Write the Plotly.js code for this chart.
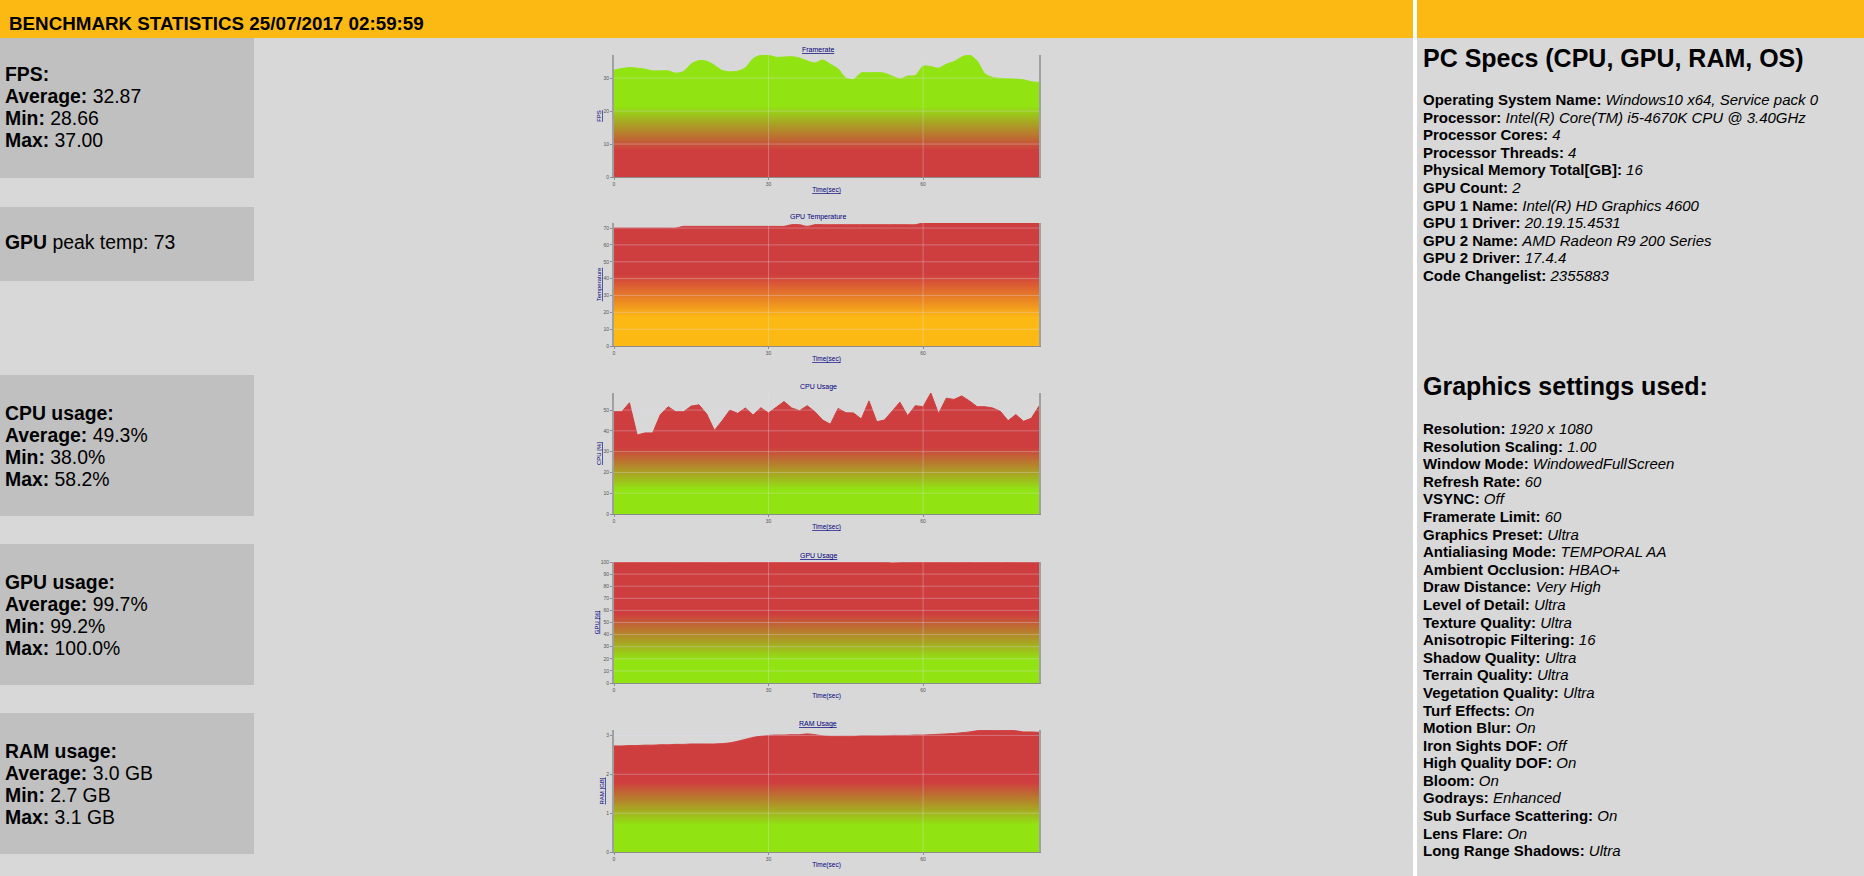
<!DOCTYPE html>
<html>
<head>
<meta charset="utf-8">
<script src="https://cdn.plot.ly/plotly-3.0.1.min.js"></script>
<style>
  html, body { margin:0; padding:0; }
  body { width:1864px; height:876px; overflow:hidden; font-family:"Liberation Sans", Arial, sans-serif; color:#000; }
  #page { position:relative; width:1864px; height:876px; background:#D8D8D8; overflow:hidden; }
  .abs { position:absolute; }
  .orange { background:#FDB913; }
  .box { position:absolute; left:0; width:254px; background:#C0C0C0; }
  .stat { position:absolute; left:5px; font-size:19.4px; line-height:22px; white-space:nowrap; }
  .hdr { position:absolute; left:9px; font-size:18.8px; line-height:22px; font-weight:bold; white-space:nowrap; }
  .h2 { position:absolute; left:1423px; font-size:25px; line-height:30px; font-weight:bold; white-space:nowrap; }
  .list { position:absolute; left:1423px; font-size:15px; line-height:17.6px; white-space:nowrap; }
  .list i { font-style:italic; }
  #plot { position:absolute; left:0; top:0; width:1864px; height:876px; }
</style>
</head>
<body>
<div id="page">
  <div class="abs orange" style="left:0;top:0;width:1413px;height:38px;"></div>
  <div class="abs orange" style="left:1417px;top:0;width:447px;height:38px;"></div>
  <div class="abs" style="left:1413px;top:0;width:4px;height:876px;background:#FFFFFF;"></div>
  <div class="hdr" style="top:12.5px;">BENCHMARK STATISTICS 25/07/2017 02:59:59</div>

  <div class="box" style="top:38px;height:140px;"></div>
  <div class="box" style="top:207px;height:74px;"></div>
  <div class="box" style="top:375px;height:141px;"></div>
  <div class="box" style="top:544px;height:141px;"></div>
  <div class="box" style="top:713px;height:141px;"></div>

  <div class="stat" style="top:63.2px;"><b>FPS:</b><br><b>Average:</b> 32.87<br><b>Min:</b> 28.66<br><b>Max:</b> 37.00</div>
  <div class="stat" style="top:230.5px;"><b>GPU</b> peak temp: 73</div>
  <div class="stat" style="top:401.5px;"><b>CPU usage:</b><br><b>Average:</b> 49.3%<br><b>Min:</b> 38.0%<br><b>Max:</b> 58.2%</div>
  <div class="stat" style="top:570.5px;"><b>GPU usage:</b><br><b>Average:</b> 99.7%<br><b>Min:</b> 99.2%<br><b>Max:</b> 100.0%</div>
  <div class="stat" style="top:739.5px;"><b>RAM usage:</b><br><b>Average:</b> 3.0 GB<br><b>Min:</b> 2.7 GB<br><b>Max:</b> 3.1 GB</div>

  <div class="h2" style="top:43.3px;">PC Specs (CPU, GPU, RAM, OS)</div>
  <div class="list" id="specs" style="top:91px;"></div>
  <div class="h2" style="top:371.3px;">Graphics settings used:</div>
  <div class="list" id="gfx" style="top:420px;"></div>

  <div id="plot"></div>
</div>
<script>
// ---------------- data ----------------
var time = [0,1.5,3,4.5,6,7.5,9,10.5,12,13.5,15,16.5,18,19.5,21,22.5,24,25.5,27,28.5,30,31.5,33,34.5,36,37.5,39,40.5,42,43.5,45,46.5,48,49.5,51,52.5,54,55.5,57,58.5,60,61.5,63,64.5,66,67.5,69,70.5,72,73.5,75,76.5,78,79.5,81,82.5];

var fps = [32.4,32.9,33.2,33.0,32.7,32.2,32.2,32.2,31.5,32.0,
           34.3,35.3,35.1,33.9,32.3,31.9,32.1,33.1,35.9,36.9,
           36.9,36.3,36.4,36.5,36.1,35.2,34.6,35.5,34.2,32.8,
           30.0,29.6,31.6,31.6,31.7,31.5,30.6,29.7,30.6,30.8,
           33.6,33.5,33.0,34.2,35.0,36.4,37.0,35.2,31.3,30.2,
           29.9,29.8,29.7,29.5,28.9,28.7];

var gpuTemp = [70,70,70,70,70,70,70,70,70,71,
               71,71,71,71,71,71,71,71,71,71,
               71,71,71,72,72,71,72,72,72,72,
               72,72,72,72,72,72,72,72,72,72,
               73,73,73,73,73,73,73,73,73,73,
               73,73,73,73,73,73];

var cpuUsage = [49.2,49.2,53.5,38.0,39.0,39.0,47.8,51.6,49.2,49.2,
                51.9,52.5,48.1,40.2,44.9,50.0,48.4,51.0,47.6,51.1,
                48.6,51.3,54.1,51.0,49.7,52.1,49.2,45.2,43.2,50.8,
                48.7,48.6,45.7,54.4,44.4,45.2,49.7,53.8,47.3,52.1,
                51.6,58.2,48.3,55.7,55.1,56.8,54.4,51.6,51.6,51.0,
                49.4,44.9,47.8,44.6,46.0,51.9];

var gpuUsage = [99.8,100,100,99.9,100,99.7,100,100,99.8,99.6,
                100,100,99.9,99.5,99.8,100,99.7,99.9,100,100,
                99.6,99.8,100,99.9,99.4,99.7,100,99.8,99.6,99.9,
                100,99.7,99.5,99.8,100,99.9,99.2,99.6,99.8,100,
                100,99.7,99.9,99.5,99.8,100,100,99.6,99.8,99.9,
                99.5,99.7,100,99.8,99.6,99.9];

var ramUsage = [2.73,2.73,2.74,2.74,2.75,2.75,2.76,2.76,2.77,2.77,
                2.78,2.78,2.78,2.78,2.79,2.81,2.85,2.90,2.95,2.98,
                3.00,3.01,3.01,3.02,3.02,3.04,3.02,2.99,2.98,2.98,
                2.98,2.98,2.99,2.99,2.99,2.99,3.00,3.00,3.00,3.01,
                3.01,3.02,3.03,3.04,3.05,3.07,3.09,3.12,3.13,3.13,
                3.13,3.13,3.12,3.09,3.09,3.08];

var chartTitles = ["Framerate","GPU Temperature","CPU Usage","GPU Usage","RAM Usage"];
var yTitles = ["FPS","Temperature","CPU [%]","GPU [%]","RAM [GB]"];
var xTitle = "Time(sec)";
var xTicks = [0,30,60];
var fpsTicks = [0,10,20,30];
var tempTicks = [0,10,20,30,40,50,60,70];
var cpuTicks = [0,10,20,30,40,50];
var gpuTicks = [0,10,20,30,40,50,60,70,80,90,100];
var ramTicks = [0,1,2,3];
var yMax = [37, 73, 58.2, 100, 3.14];

var specNames = ["Operating System Name","Processor","Processor Cores","Processor Threads","Physical Memory Total[GB]","GPU Count","GPU 1 Name","GPU 1 Driver","GPU 2 Name","GPU 2 Driver","Code Changelist"];
var specValues = ["Windows10 x64, Service pack 0","Intel(R) Core(TM) i5-4670K CPU @ 3.40GHz","4","4","16","2","Intel(R) HD Graphics 4600","20.19.15.4531","AMD Radeon R9 200 Series","17.4.4","2355883"];
var gfxNames = ["Resolution","Resolution Scaling","Window Mode","Refresh Rate","VSYNC","Framerate Limit","Graphics Preset","Antialiasing Mode","Ambient Occlusion","Draw Distance","Level of Detail","Texture Quality","Anisotropic Filtering","Shadow Quality","Terrain Quality","Vegetation Quality","Turf Effects","Motion Blur","Iron Sights DOF","High Quality DOF","Bloom","Godrays","Sub Surface Scattering","Lens Flare","Long Range Shadows"];
var gfxValues = ["1920 x 1080","1.00","WindowedFullScreen","60","Off","60","Ultra","TEMPORAL AA","HBAO+","Very High","Ultra","Ultra","16","Ultra","Ultra","Ultra","On","On","Off","On","On","Enhanced","On","On","Ultra"];

// ---------------- text lists ----------------
function fillList(id, names, values) {
  var html = [];
  for (var i = 0; i < names.length; i++) html.push('<b>' + names[i] + ':</b> <i>' + values[i] + '</i>');
  document.getElementById(id).innerHTML = html.join('<br>');
}
fillList('specs', specNames, specValues);
fillList('gfx', gfxNames, gfxValues);

// ---------------- charts ----------------
var RED = 'rgb(207,62,62)', GREEN = 'rgb(145,228,18)', ORANGE = 'rgb(253,185,19)';
var series = [fps, gpuTemp, cpuUsage, gpuUsage, ramUsage];
var yTickSets = [fpsTicks, tempTicks, cpuTicks, gpuTicks, ramTicks];
var lowColor = [RED, ORANGE, GREEN, GREEN, GREEN];
var highColor = [GREEN, RED, RED, RED, RED];
var gradLo = [0.22, 0.23, 0.20, 0.19, 0.22];
var gradHi = [0.58, 0.58, 0.55, 0.57, 0.57];
var shapesSpline = ['spline','spline','linear','linear','spline'];
var underlineTitle = [true,false,false,true,true];
var underlineX = [true,true,true,false,false];

var W = 1864, H = 876;
var plotLeft = 614, plotRight = 1039;
var plotTop = [55, 223, 393, 562, 730];
var plotBottom = [177, 346, 514, 683, 852];

var traces = [], layout = {
  width: W, height: H,
  margin: {l:0, r:0, t:0, b:0},
  paper_bgcolor: 'rgba(0,0,0,0)', plot_bgcolor: 'rgba(0,0,0,0)',
  showlegend: false,
  font: {family: 'Liberation Sans, Arial, sans-serif', size: 5, color: '#555'},
  shapes: [], annotations: []
};
var NAVY = '#000080';
var GRID = 'rgba(225,225,245,0.32)';

for (var k = 0; k < 5; k++) {
  var n = k === 0 ? '' : String(k + 1);
  var xa = 'x' + n, ya = 'y' + n;
  traces.push({
    type: 'scatter', mode: 'lines', x: time, y: series[k],
    xaxis: xa, yaxis: ya,
    fill: 'tozeroy',
    fillgradient: {type: 'vertical', start: 0, stop: yMax[k],
      colorscale: [[0, lowColor[k]], [gradLo[k], lowColor[k]], [gradHi[k], highColor[k]], [1, highColor[k]]]},
    line: {shape: shapesSpline[k], smoothing: 0.7, width: 1, color: highColor[k]},
    hoverinfo: 'skip'
  });
  layout['xaxis' + n] = {
    domain: [plotLeft / W, plotRight / W], anchor: ya,
    range: [0, 82.5], tickvals: xTicks, ticktext: xTicks.map(String),
    showgrid: false, zeroline: false,
    showline: true, linecolor: '#8C8C8C', linewidth: 1, mirror: false,
    ticks: 'outside', ticklen: 2, tickcolor: '#8C8C8C', tickfont: {size: 5, color: '#555'},
    title: {text: xTitle, standoff: 1, font: {size: 6.5, color: NAVY, lineposition: underlineX[k] ? 'under' : 'none'}},
    fixedrange: true
  };
  layout['yaxis' + n] = {
    domain: [1 - plotBottom[k] / H, 1 - plotTop[k] / H], anchor: xa,
    range: [0, yMax[k]], tickvals: yTickSets[k], ticktext: yTickSets[k].map(String),
    showgrid: false, zeroline: false,
    showline: true, linecolor: '#A0A0A0', linewidth: 2, mirror: true,
    ticks: 'outside', ticklen: 2, tickcolor: '#8C8C8C', tickfont: {size: 5, color: '#555'},
    title: {text: yTitles[k], standoff: 1, font: {size: 6, color: NAVY, lineposition: 'under'}},
    fixedrange: true
  };
  // grid lines drawn above the filled area
  yTickSets[k].forEach(function (v) {
    if (v === 0) return;
    layout.shapes.push({type: 'line', layer: 'above', xref: xa + ' domain', yref: ya,
      x0: 0, x1: 1, y0: v, y1: v, line: {color: GRID, width: 1}});
  });
  xTicks.forEach(function (v) {
    if (v === 0) return;
    layout.shapes.push({type: 'line', layer: 'above', xref: xa, yref: ya + ' domain',
      x0: v, x1: v, y0: 0, y1: 1, line: {color: GRID, width: 1}});
  });
  layout.annotations.push({
    text: chartTitles[k], showarrow: false,
    xref: xa + ' domain', yref: ya + ' domain', x: 0.48, y: 1, xanchor: 'center', yanchor: 'bottom', yshift: 0,
    font: {size: 7, color: NAVY, lineposition: underlineTitle[k] ? 'under' : 'none'}
  });
}

Plotly.newPlot('plot', traces, layout, {staticPlot: true, displayModeBar: false});
</script>
</body>
</html>
